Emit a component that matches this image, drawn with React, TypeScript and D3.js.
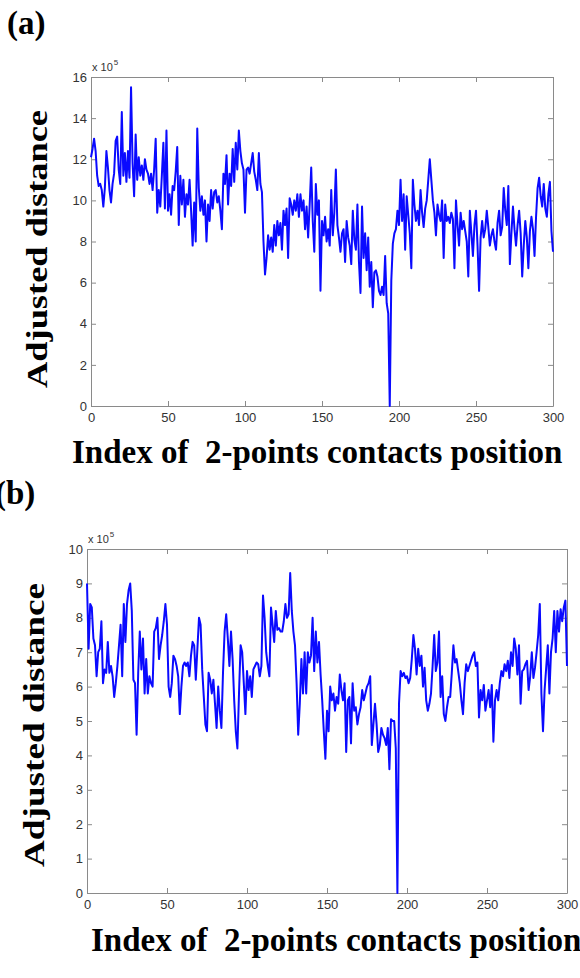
import { useEffect, useRef } from 'react';
import * as d3 from 'd3';

// tick values for both panels
const xTicks = [0, 50, 100, 150, 200, 250, 300];
const yTicksA = [0, 2, 4, 6, 8, 10, 12, 14, 16];
const yTicksB = [0, 1, 2, 3, 4, 5, 6, 7, 8, 9, 10];

const xLabel = 'Index of  2-points contacts position';
const yLabel = 'Adjusted distance';
const scaleBase = 'x 10';
const scaleExp = '5';

// (a) adjusted distance (x 10^5), index 0..300
const distanceA = [
  12.1, 12.5, 13.0, 12.4, 11.2, 10.7, 10.8, 10.5, 9.7, 10.6,
  12.4, 11.6, 10.5, 9.9, 10.8, 11.3, 12.9, 13.1, 11.5, 10.8,
  14.3, 11.2, 12.3, 10.9, 12.4, 11.1, 15.5, 11.8, 10.2, 13.2,
  11.0, 12.1, 11.2, 11.7, 11.0, 12.0, 11.5, 11.3, 10.8, 11.3,
  10.5, 11.5, 13.0, 9.4, 10.5, 9.7, 11.2, 12.8, 9.6, 13.4,
  9.5, 10.3, 9.3, 10.7, 10.5, 11.4, 12.6, 8.8, 11.2, 9.8,
  11.0, 9.2, 10.3, 9.8, 11.0, 9.5, 7.8, 9.9, 8.0, 13.5,
  10.6, 9.5, 10.2, 9.3, 10.0, 8.0, 9.8, 9.0, 10.5, 9.6,
  10.4, 10.5, 9.9, 10.2, 9.5, 8.6, 11.3, 10.8, 12.2, 9.8,
  11.3, 10.7, 12.5, 10.9, 12.8, 11.5, 13.4, 12.4, 11.8, 11.5,
  9.4, 11.5, 11.6, 11.3, 11.8, 12.3, 11.4, 11.0, 10.5, 12.3,
  10.8, 10.4, 8.0, 6.4, 7.2, 8.3, 7.6, 8.2, 7.5, 8.8,
  7.8, 9.0, 8.3, 8.9, 7.6, 9.5, 8.8, 9.6, 7.2, 10.1,
  9.8, 9.3, 10.0, 9.5, 10.3, 9.2, 10.3, 9.5, 10.0, 8.6,
  9.7, 8.2, 9.8, 11.6, 9.0, 7.5, 10.8, 9.3, 10.0, 5.6,
  9.0, 8.3, 9.2, 8.0, 8.6, 7.8, 10.5, 8.3, 9.4, 11.5,
  8.8, 8.2, 7.5, 8.4, 8.6, 7.0, 9.0, 8.2, 7.8, 6.9,
  9.5, 8.1, 7.6, 9.8, 7.0, 5.5, 9.7, 7.2, 8.4, 6.6,
  8.2, 5.8, 7.0, 4.8, 6.5, 6.6, 6.3, 5.6, 5.4, 5.8,
  5.4, 7.3, 5.0, 4.5, 0.0, 6.1, 7.9, 8.4, 8.6, 9.5,
  8.8, 11.0, 9.0, 10.3, 7.6, 10.2, 9.3, 8.4, 6.7, 11.0,
  9.8, 9.0, 9.5, 8.8, 10.5, 9.4, 8.7, 9.6, 10.0, 11.0,
  12.0, 11.0, 10.0, 9.4, 8.3, 9.8, 9.3, 9.0, 10.0, 7.2,
  9.8, 9.0, 9.2, 8.9, 9.4, 9.1, 6.7, 10.0, 8.8, 7.8,
  9.4, 8.6, 9.0, 8.5, 8.0, 6.3, 9.5, 8.4, 7.3, 8.8,
  9.5, 7.8, 5.6, 8.2, 9.0, 8.2, 8.6, 9.5, 8.7, 7.8,
  8.3, 8.6, 8.0, 7.6, 8.9, 9.5, 8.3, 8.7, 10.6, 9.5,
  8.8, 10.7, 6.9, 8.4, 9.7, 8.6, 7.8, 8.8, 9.5, 8.4,
  6.3, 7.8, 9.0, 8.2, 6.7, 8.5, 9.2, 8.6, 7.3, 9.2,
  10.6, 11.1, 10.2, 9.7, 10.8, 9.6, 9.2, 10.3, 10.9, 8.5,
  7.5,
];

// (b) adjusted distance (x 10^5), index 0..300
const distanceB = [
  9.0, 7.1, 8.4, 8.3, 7.4, 7.2, 6.3, 7.0, 7.1, 7.9,
  6.1, 6.5, 6.4, 7.3, 6.4, 6.6, 6.3, 5.7, 6.1, 6.6,
  7.2, 7.8, 6.3, 8.4, 7.3, 8.4, 8.8, 9.0, 8.2, 6.2,
  6.1, 4.6, 6.4, 7.6, 6.5, 7.4, 5.8, 6.8, 5.8, 6.3,
  6.1, 6.0, 7.6, 7.7, 8.0, 6.8, 7.2, 7.5, 7.9, 8.4,
  7.8, 6.0, 5.7, 6.1, 6.9, 6.8, 6.6, 6.3, 5.2, 6.0,
  6.6, 6.7, 6.6, 6.7, 6.3, 6.9, 7.3, 7.2, 6.2, 7.1,
  8.0, 7.8, 6.5, 5.7, 4.9, 4.7, 6.4, 6.2, 5.8, 6.2,
  5.5, 4.8, 6.0, 5.3, 4.8, 6.4, 7.6, 8.1, 7.4, 6.6,
  7.6, 6.8, 5.6, 4.7, 4.2, 5.8, 7.2, 7.0, 6.1, 5.2,
  6.45, 5.9, 6.3, 5.7, 6.5, 6.6, 6.7, 6.65, 6.3, 6.6,
  8.65, 8.0, 7.0, 6.6, 6.3, 8.3, 7.8, 7.3, 8.2, 7.65,
  7.7, 7.6, 7.6, 7.9, 8.4, 8.0, 8.1, 9.3, 8.2, 7.6,
  7.2, 6.1, 4.6, 5.5, 6.8, 5.8, 7.0, 5.8, 7.0, 6.7,
  6.9, 8.0, 6.45, 7.6, 6.7, 7.3, 6.35, 5.6, 4.7, 3.9,
  5.3, 4.7, 6.0, 5.6, 5.8, 5.3, 5.7, 5.5, 6.35, 5.9,
  5.6, 6.1, 4.1, 5.6, 5.7, 4.35, 6.1, 5.3, 5.4, 4.9,
  5.2, 5.4, 5.9, 5.6, 5.8, 6.0, 6.1, 6.3, 4.3, 4.9,
  5.5, 4.9, 4.1, 4.3, 4.8, 4.6, 4.5, 4.3, 4.8, 3.6,
  5.05, 5.0, 5.0, 4.2, 0.0, 5.5, 6.45, 6.3, 6.4, 6.25,
  6.3, 6.1, 6.25, 6.8, 7.5, 7.1, 6.35, 7.1, 6.6, 6.9,
  6.0, 6.55, 5.6, 5.3, 5.5, 5.8, 6.6, 7.5, 6.45, 6.7,
  7.6, 5.7, 6.3, 5.2, 5.0, 5.4, 5.7, 5.7, 6.4, 7.2,
  6.7, 6.8, 6.45, 6.1, 5.6, 5.2, 6.1, 6.65, 6.45, 6.6,
  6.75, 6.9, 7.0, 6.6, 6.7, 5.1, 5.9, 5.6, 6.05, 5.3,
  5.6, 5.9, 5.4, 6.05, 4.4, 5.6, 5.9, 5.6, 6.1, 6.45,
  6.3, 6.65, 6.45, 6.75, 6.25, 7.0, 6.6, 7.4, 7.1, 6.35,
  7.2, 5.5, 6.45, 6.5, 6.65, 6.75, 5.9, 6.3, 7.0, 6.25,
  6.55, 7.0, 7.5, 8.4, 5.8, 4.7, 5.9, 6.55, 7.2, 5.8,
  7.0, 7.4, 8.2, 7.0, 8.2, 7.6, 8.25, 7.9, 8.3, 8.5,
  6.6,
];

const W = 580;
const H = 978;

const panels = [
  {
    tag: '(a)', values: distanceA, yTicks: yTicksA,
    left: 91, right: 553, top: 77, bottom: 406,
    tagX: 7, tagY: 34, labelY: 463, labelX: 72, yLabelX: 47, yLabelMid: 249, yLabelLen: 278,
  },
  {
    tag: '(b)', values: distanceB, yTicks: yTicksB,
    left: 87, right: 567, top: 549, bottom: 893,
    tagX: -5, tagY: 504, labelY: 951, labelX: 91, yLabelX: 44, yLabelMid: 725, yLabelLen: 284,
  },
];

const tickFont = 'Liberation Sans, Arial, sans-serif';
const labelFont = 'Liberation Serif, Times New Roman, serif';
const boxColor = '#8a8a8a';

const App = () => {
  const svgRef = useRef(null);

  useEffect(() => {
    const svg = d3.select(svgRef.current);
    svg.selectAll('*').remove();

    svg.append('rect').attr('width', W).attr('height', H).attr('fill', '#fff');

    panels.forEach(p => {
      const x = d3.scaleLinear().domain([0, 300]).range([p.left, p.right]);
      const y = d3.scaleLinear()
        .domain([0, p.yTicks[p.yTicks.length - 1]])
        .range([p.bottom, p.top]);

      const styleAxis = g => {
        g.select('.domain').attr('stroke', boxColor).attr('stroke-width', 1);
        g.selectAll('.tick line').attr('stroke', boxColor);
        g.selectAll('.tick text')
          .attr('fill', '#333')
          .attr('font-family', tickFont)
          .attr('font-size', 13);
      };

      // box with inward ticks on all sides (matlab style)
      svg.append('g')
        .attr('transform', `translate(0,${p.bottom})`)
        .call(d3.axisBottom(x).tickValues(xTicks).tickSizeInner(-5).tickSizeOuter(0).tickPadding(7))
        .call(styleAxis);
      svg.append('g')
        .attr('transform', `translate(0,${p.top})`)
        .call(d3.axisTop(x).tickValues(xTicks).tickSizeInner(-5).tickSizeOuter(0).tickFormat(() => ''))
        .call(styleAxis);
      svg.append('g')
        .attr('transform', `translate(${p.left},0)`)
        .call(d3.axisLeft(y).tickValues(p.yTicks).tickSizeInner(-5).tickSizeOuter(0).tickPadding(4))
        .call(styleAxis);
      svg.append('g')
        .attr('transform', `translate(${p.right},0)`)
        .call(d3.axisRight(y).tickValues(p.yTicks).tickSizeInner(-5).tickSizeOuter(0).tickFormat(() => ''))
        .call(styleAxis);

      // data line
      const line = d3.line<number>()
        .x((d, i) => x(i))
        .y(d => y(d));
      svg.append('path')
        .datum(p.values)
        .attr('fill', 'none')
        .attr('stroke', '#0a0aff')
        .attr('stroke-width', 2)
        .attr('stroke-linejoin', 'round')
        .attr('d', line);

      // x 10^5 multiplier
      const mult = svg.append('text')
        .attr('x', p.left + 1)
        .attr('y', p.top - 6)
        .attr('font-family', tickFont)
        .attr('font-size', 11)
        .attr('fill', '#333');
      mult.append('tspan').text(scaleBase);
      mult.append('tspan').attr('font-size', 8).attr('dy', -6).attr('dx', 1).text(scaleExp);

      // panel tag
      svg.append('text')
        .attr('x', p.tagX)
        .attr('y', p.tagY)
        .attr('font-family', labelFont)
        .attr('font-weight', 'bold')
        .attr('font-size', 33)
        .text(p.tag);

      // x axis label
      svg.append('text')
        .attr('x', p.labelX)
        .attr('y', p.labelY)
        .attr('font-family', labelFont)
        .attr('font-weight', 'bold')
        .attr('font-size', 33)
        .style('white-space', 'pre')
        .text(xLabel);

      // y axis label
      svg.append('text')
        .attr('transform', `translate(${p.yLabelX},${p.yLabelMid}) rotate(-90)`)
        .attr('text-anchor', 'middle')
        .attr('font-family', labelFont)
        .attr('font-weight', 'bold')
        .attr('font-size', 29)
        .attr('textLength', p.yLabelLen)
        .attr('lengthAdjust', 'spacingAndGlyphs')
        .text(yLabel);
    });
  }, []);

  return (
    <svg ref={svgRef} width={W} height={H}
      style={{ position: 'absolute', left: 0, top: 0, display: 'block' }} />
  );
};

export default App;
